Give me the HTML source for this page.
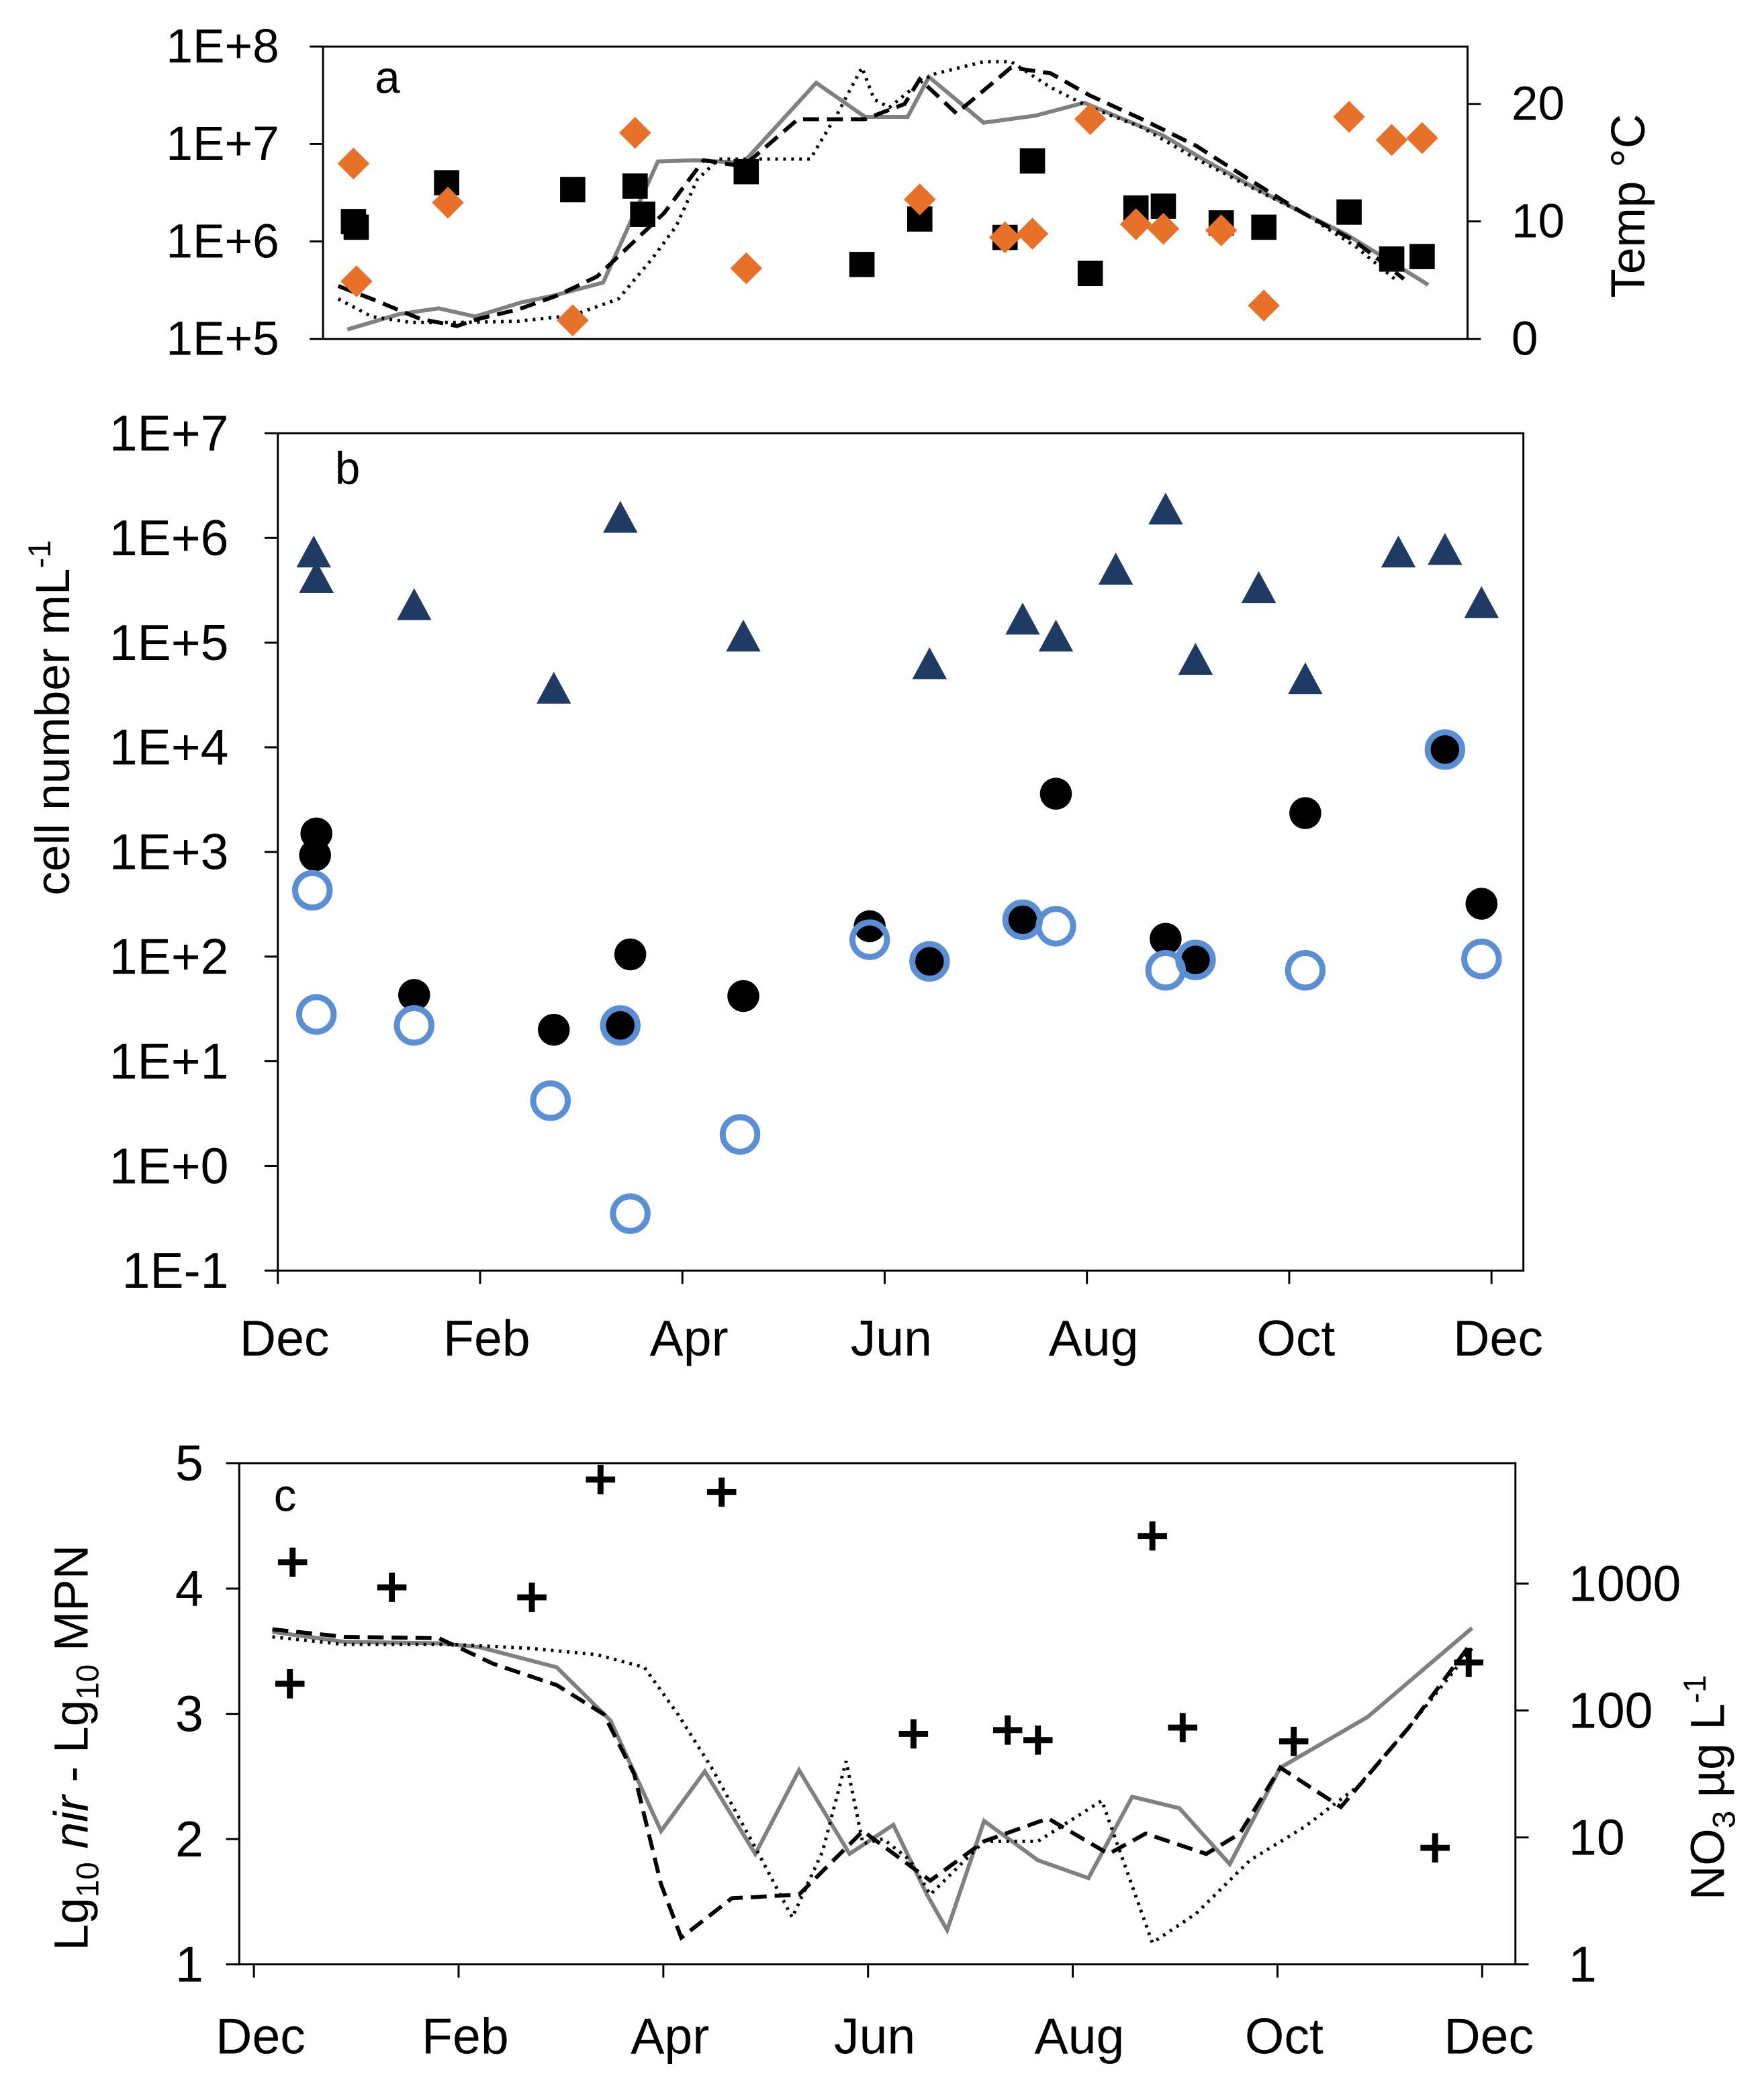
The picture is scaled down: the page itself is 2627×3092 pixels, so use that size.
<!DOCTYPE html>
<html><head><meta charset="utf-8"><style>
html,body{margin:0;padding:0;background:#fff;}
svg{display:block;font-family:"Liberation Sans",Arial,sans-serif;}
</style></head><body>
<svg id="chart" width="2627" height="3092" viewBox="0 0 1327 1562" preserveAspectRatio="none" xmlns="http://www.w3.org/2000/svg"></svg>
<script>
// ---- Panel a data ----
const aSqDays=[10,10.9,40.6,82,102.5,105,139,177,196,224,233,252,267,276,295,309,337,351,361];
const aSqVals=[1.6e6,1.4e6,4e6,3.4e6,3.7e6,1.9e6,5.2e6,5.8e5,1.7e6,1.1e6,6.7e6,4.7e5,2.2e6,2.3e6,1.55e6,1.4e6,2e6,6.6e5,7e5];
const aDiDays=[10,11,41,82,102.5,139,196,224,233,252,267,276,295,309,337,351,361];
const aDiVals=[6.3e6,3.9e5,2.5e6,1.55e5,1.3e7,5.3e5,2.7e6,1.1e6,1.2e6,1.8e7,1.5e6,1.35e6,1.3e6,2.2e5,1.9e7,1.1e7,1.15e7];
const tSolidDays=[8,25,38,50,65,76,92,110,122,138,162,178,192,199,217,234,250,261,276,289,305,322,336,350,363];
const tSolidVals=[0.8,2.1,2.6,1.9,3.1,3.7,4.8,15.1,15.2,15.0,21.8,18.9,18.9,22.3,18.4,19.0,20.1,18.9,17.3,15.3,13.0,10.7,8.9,6.7,4.6];
const tDashDays=[5,16,32,44,51,64,77,90,103,112,125,138,156,178,191,196,208,226,239,252,269,287,304,322,339,355];
const tDashVals=[4.5,3.4,1.7,1.1,1.7,2.5,3.7,5.3,8.5,10.7,15.2,14.7,18.7,18.7,20.0,22.1,19.2,23.1,22.6,20.7,18.7,16.4,13.6,10.7,8.3,5.1];
const tDotDays=[5,16,29,45,64,82,97,108,116,123,130,147,160,169,177,181,186,195,200,217,226,239,252,269,287,304,322,339,352];
const tDotVals=[3.4,1.9,1.4,1.4,1.5,2.0,3.4,6.8,9.6,13.6,15.3,15.3,15.3,19.2,23.1,20.4,19.7,21.6,22.5,23.6,23.6,21.4,19.7,18.0,15.3,13.0,10.7,7.9,5.1];
const aLeftTicks=["1E+5","1E+6","1E+7","1E+8"];
const aRightTicks=[0,10,20];
// ---- Panel b data ----
const triDays=[10.8,11.6,41,83,103,140,196,224,234,252,267,276,295,309,337,351,362];
const triVals=[7e5,4e5,2.2e5,3.5e4,1.5e6,1.1e5,6e4,1.6e5,1.1e5,4.8e5,1.8e6,6.6e4,3.2e5,4.3e4,7e5,7.4e5,2.3e5];
const fillDays=[11.2,11.6,41,83,103,106,140,178,196,224,234,267,276,309,351,362];
const fillVals=[930,1500,43,20,22,105,42,195,93,225,3600,148,91,2350,9300,320];
const openDays=[10.4,11.6,41,82,103,106,139,178,196,224,234,267,276,309,351,362];
const openVals=[430,28,22,4.2,22,0.35,2.0,145,90,225,195,74,93,74,9500,95];
const bTicks=["1E-1","1E+0","1E+1","1E+2","1E+3","1E+4","1E+5","1E+6","1E+7"];
const months=["Dec","Feb","Apr","Jun","Aug","Oct","Dec"];
// ---- Panel c data ----
const plusDays=[11.5,10.7,41,82.6,103,139,196,224,233,267,276,309,351,361];
const plusVals=[4.21,3.24,4.01,3.93,4.87,4.77,2.84,2.87,2.79,4.42,2.89,2.78,1.93,3.41];
const nSolidDays=[5.5,27,55,67,90,106,121,134,149,162,177,190,200,206,217,233,248,261,275,290,305,331,362];
const nSolidLog=[2.62,2.54,2.53,2.50,2.34,1.92,1.05,1.52,0.87,1.53,0.87,1.10,0.55,0.27,1.13,0.82,0.68,1.32,1.23,0.79,1.55,1.95,2.65];
const nDashDays=[5.5,27,55,71,90,104,113,121,127,142,162,181,201,217,236,254,265,283,293,305,323,343,362];
const nDashLog=[2.64,2.58,2.57,2.37,2.20,1.97,1.50,0.63,0.21,0.52,0.55,1.05,0.66,0.97,1.15,0.87,1.03,0.87,1.03,1.55,1.24,1.86,2.54];
const nDotDays=[5.5,27,59,82,102,116,126,136,149,160,169,176,181,187,195,201,217,233,252,267,280,296,312,328,343,362];
const nDotLog=[2.58,2.52,2.52,2.49,2.44,2.34,1.97,1.55,0.92,0.37,0.89,1.60,0.95,0.99,0.82,0.55,0.97,0.97,1.29,0.17,0.40,0.82,1.08,1.40,1.86,2.49];
const cLeftTicks=[1,2,3,4,5];
const cRightTicks=["1","10","100","1000"];

const svg=document.getElementById('chart');
const NS="http://www.w3.org/2000/svg";
function mk(tag,at,parent){const e=document.createElementNS(NS,tag);for(const k in at)e.setAttribute(k,at[k]);(parent||svg).appendChild(e);return e;}
function txt(s,at,parent){const e=mk('text',at,parent);e.textContent=s;return e;}

// axis functions
const axA={x:d=>243+d*836/365, y:v=>255-(Math.log10(v)-5)*220/3, yr:t=>255-t*8.84};
const axB={x:d=>209+d*913/365, y:v=>956-(Math.log10(v)+1)*78.75};
const axC={x:d=>191+d*924/365, y:v=>1478-(v-1)*94.25, yr:l=>1478-l*95.5};

function line(days,vals,fx,fy,style,name,g){
  const pts=days.map((d,i)=>fx(d).toFixed(1)+","+fy(vals[i]).toFixed(1)).join(" ");
  const p=mk('polyline',Object.assign({points:pts,fill:"none"},style),g);
  
  
}
const solidSt={stroke:"#808080","stroke-width":3};
const dashSt={stroke:"#000","stroke-width":3,"stroke-dasharray":"12,6"};
const dotSt={stroke:"#000","stroke-width":2.5,"stroke-dasharray":"2,4"};
const tickFont={"font-size":36,fill:"#000"};

// ===== Panel a =====
const ga=mk('g',{});


const fa=mk('rect',{x:243,y:35,width:861,height:220,fill:"none",stroke:"#000","stroke-width":1.5},ga);


aLeftTicks.forEach((s,i)=>{const y=255-i*220/3;
  mk('line',{x1:233,x2:243,y1:y,y2:y,stroke:"#000","stroke-width":1.5},ga);
  const t=txt(s,Object.assign({x:210,y:y+12,"text-anchor":"end"},tickFont),ga);
  
  });
aRightTicks.forEach(v=>{const y=axA.yr(v);
  mk('line',{x1:1104,x2:1114,y1:y,y2:y,stroke:"#000","stroke-width":1.5},ga);
  const t=txt(String(v),Object.assign({x:1137,y:y+12},tickFont),ga);
  
  });
const ta=txt("Temp °C",{x:0,y:0,"font-size":36,transform:"translate(1237,155) rotate(-90)","text-anchor":"middle"},ga);


const la=txt("a",{x:282,y:70,"font-size":34},ga);


line(tSolidDays,tSolidVals,axA.x,axA.yr,solidSt,'temp-line-solid',ga);
line(tDashDays,tDashVals,axA.x,axA.yr,dashSt,'temp-line-dashed',ga);
line(tDotDays,tDotVals,axA.x,axA.yr,dotSt,'temp-line-dotted',ga);
aSqDays.forEach((d,i)=>{const x=axA.x(d),y=axA.y(aSqVals[i]);
  const r=mk('rect',{x:x-9.5,y:y-9.5,width:19,height:19,fill:"#000"},ga);
  
  });
aDiDays.forEach((d,i)=>{const x=axA.x(d),y=axA.y(aDiVals[i]);
  const r=mk('polygon',{points:`${x},${y-12} ${x+12},${y} ${x},${y+12} ${x-12},${y}`,fill:"#E8712A"},ga);
  
  });

// ===== Panel b =====
const gb=mk('g',{});


const fb=mk('rect',{x:209,y:326,width:937,height:630,fill:"none",stroke:"#000","stroke-width":1.5},gb);


bTicks.forEach((s,i)=>{const y=956-i*78.75;
  mk('line',{x1:199,x2:209,y1:y,y2:y,stroke:"#000","stroke-width":1.5},gb);
  const t=txt(s,Object.assign({x:172,y:y+13,"text-anchor":"end","font-size":38}),gb);
  
  });
months.forEach((m,i)=>{const x=axB.x(i*365/6);
  mk('line',{x1:x,x2:x,y1:956,y2:966,stroke:"#000","stroke-width":1.5},gb);
  const t=txt(m,{x:x+5,y:1020,"text-anchor":"middle","font-size":38},gb);
  
  });
const tb=txt("cell number mL",{x:0,y:0,"font-size":36,transform:"translate(52,540) rotate(-90)","text-anchor":"middle"},gb);
const sup=mk('tspan',{dy:-14,"font-size":24},tb);sup.textContent="-1";


const lb=txt("b",{x:252,y:364,"font-size":34},gb);


triDays.forEach((d,i)=>{const x=axB.x(d),y=axB.y(triVals[i]);
  const r=mk('polygon',{points:`${x},${y-14} ${x+13},${y+10} ${x-13},${y+10}`,fill:"#1F3B63"},gb);
  
  });
fillDays.forEach((d,i)=>{
  const r=mk('circle',{cx:axB.x(d),cy:axB.y(fillVals[i]),r:12,fill:"#000"},gb);
  
  });
openDays.forEach((d,i)=>{
  const r=mk('circle',{cx:axB.x(d),cy:axB.y(openVals[i]),r:13,fill:"none",stroke:"#5A8FD6","stroke-width":4.5},gb);
  
  });

// ===== Panel c =====
const gc=mk('g',{});


const fc=mk('rect',{x:180,y:1101,width:960,height:377,fill:"none",stroke:"#000","stroke-width":1.5},gc);


cLeftTicks.forEach(v=>{const y=axC.y(v);
  mk('line',{x1:170,x2:180,y1:y,y2:y,stroke:"#000","stroke-width":1.5},gc);
  const t=txt(String(v),{x:153,y:y+13,"text-anchor":"end","font-size":38},gc);
  
  });
cRightTicks.forEach((s,i)=>{const y=axC.yr(i);
  mk('line',{x1:1140,x2:1150,y1:y,y2:y,stroke:"#000","stroke-width":1.5},gc);
  const t=txt(s,{x:1180,y:y+13,"font-size":38},gc);
  
  });
months.forEach((m,i)=>{const x=axC.x(i*365/6);
  mk('line',{x1:x,x2:x,y1:1478,y2:1488,stroke:"#000","stroke-width":1.5},gc);
  const t=txt(m,{x:x+5,y:1545,"text-anchor":"middle","font-size":38},gc);
  
  });
const tc=txt("",{x:0,y:0,"font-size":36,transform:"translate(66,1315) rotate(-90)","text-anchor":"middle"},gc);
[["Lg",{}],["10",{"font-size":24,dy:8}],[" ",{dy:-8}],["nir",{"font-style":"italic"}],[" - Lg",{}],["10",{"font-size":24,dy:8}],[" MPN",{dy:-8}]].forEach(([s,a])=>{const sp=mk('tspan',a,tc);sp.textContent=s;});


const tr=txt("",{x:0,y:0,"font-size":36,transform:"translate(1297,1345) rotate(-90)","text-anchor":"middle"},gc);
[["NO",{}],["3",{"font-size":24,dy:8}],[" µg L",{dy:-8}],["-1",{"font-size":24,dy:-14}]].forEach(([s,a])=>{const sp=mk('tspan',a,tr);sp.textContent=s;});


const lc=txt("c",{x:206,y:1137,"font-size":34},gc);


line(nSolidDays,nSolidLog,axC.x,axC.yr,solidSt,'no3-line-solid',gc);
line(nDashDays,nDashLog,axC.x,axC.yr,dashSt,'no3-line-dashed',gc);
line(nDotDays,nDotLog,axC.x,axC.yr,dotSt,'no3-line-dotted',gc);
plusDays.forEach((d,i)=>{const x=axC.x(d),y=axC.y(plusVals[i]);
  const p=mk('path',{d:`M${x-11},${y}H${x+11}M${x},${y-11}V${y+11}`,stroke:"#000","stroke-width":4.5,fill:"none"},gc);
  
  });
</script>
</body></html>
